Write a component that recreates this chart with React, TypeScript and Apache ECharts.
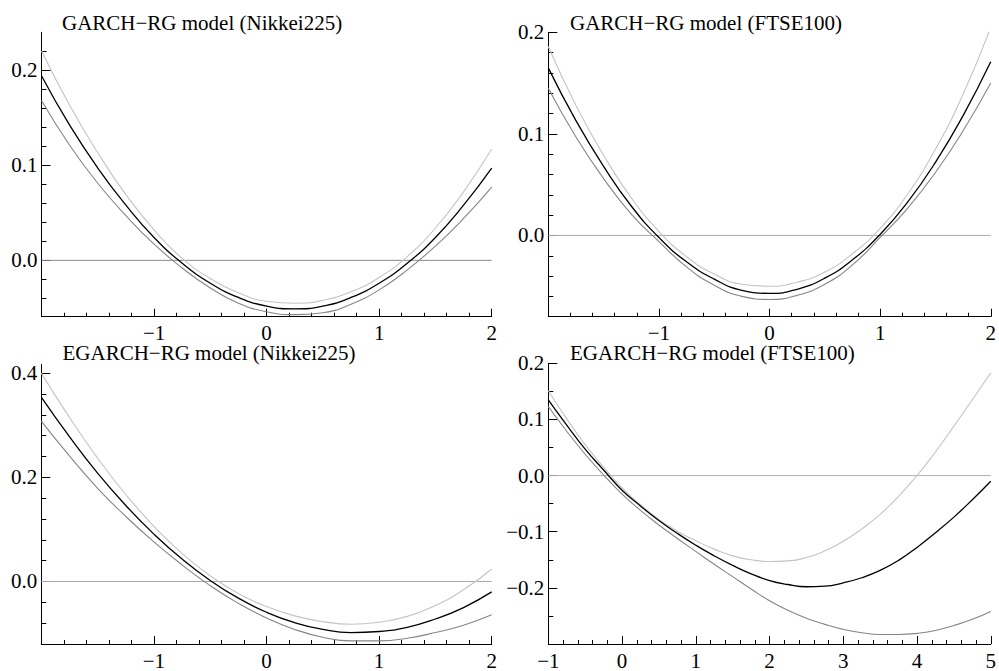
import React, { useEffect, useRef } from "react";
import * as echarts from "echarts";

const FONT = "Liberation Serif";

// ---------- titles ----------
const titles = [
  "GARCH\u2212RG model (Nikkei225)",
  "GARCH\u2212RG model (FTSE100)",
  "EGARCH\u2212RG model (Nikkei225)",
  "EGARCH\u2212RG model (FTSE100)",
];

// ---------- data (news impact curves with bands) ----------
const zStd = [-2, -1.75, -1.5, -1.25, -1, -0.75, -0.5, -0.25, 0, 0.25, 0.5, 0.75, 1, 1.25, 1.5, 1.75, 2];

const nikkeiGarchEst = [0.194, 0.142, 0.097, 0.058, 0.024, -0.003, -0.024, -0.039, -0.048, -0.051, -0.048, -0.039, -0.024, -0.003, 0.024, 0.058, 0.097];
const nikkeiGarchUpper = [0.22, 0.163, 0.113, 0.069, 0.032, 0.002, -0.019, -0.034, -0.043, -0.045, -0.042, -0.033, -0.018, 0.004, 0.034, 0.072, 0.117];
const nikkeiGarchLower = [0.168, 0.121, 0.081, 0.047, 0.017, -0.008, -0.029, -0.045, -0.054, -0.057, -0.055, -0.046, -0.031, -0.01, 0.015, 0.044, 0.077];

const ftseGarchEst = [0.165, 0.113, 0.068, 0.029, -0.002, -0.026, -0.043, -0.054, -0.057, -0.053, -0.042, -0.024, 0.001, 0.033, 0.072, 0.118, 0.171];
const ftseGarchUpper = [0.186, 0.128, 0.079, 0.037, 0.004, -0.021, -0.038, -0.048, -0.05, -0.046, -0.036, -0.018, 0.007, 0.041, 0.085, 0.139, 0.205];
const ftseGarchLower = [0.145, 0.097, 0.056, 0.021, -0.006, -0.031, -0.049, -0.06, -0.063, -0.059, -0.048, -0.029, -0.002, 0.027, 0.062, 0.103, 0.15];

const nikkeiEgarchEst = [0.354, 0.278, 0.208, 0.146, 0.091, 0.043, 0.002, -0.032, -0.059, -0.079, -0.092, -0.098, -0.096, -0.088, -0.072, -0.05, -0.02];
const nikkeiEgarchUpper = [0.4, 0.315, 0.237, 0.167, 0.106, 0.054, 0.011, -0.023, -0.048, -0.066, -0.077, -0.082, -0.078, -0.067, -0.046, -0.016, 0.024];
const nikkeiEgarchLower = [0.308, 0.241, 0.179, 0.125, 0.076, 0.032, -0.008, -0.042, -0.07, -0.092, -0.107, -0.114, -0.114, -0.109, -0.098, -0.084, -0.064];

const zFtseEgarch = [-1, -0.75, -0.5, -0.25, 0, 0.25, 0.5, 0.75, 1, 1.25, 1.5, 1.75, 2, 2.25, 2.5, 2.75, 3, 3.25, 3.5, 3.75, 4, 4.25, 4.5, 4.75, 5];
const ftseEgarchEst = [0.135, 0.09, 0.047, 0.01, -0.026, -0.054, -0.08, -0.103, -0.124, -0.143, -0.16, -0.175, -0.187, -0.194, -0.198, -0.197, -0.191, -0.182, -0.169, -0.151, -0.128, -0.102, -0.074, -0.043, -0.01];
const ftseEgarchUpper = [0.151, 0.101, 0.055, 0.015, -0.022, -0.052, -0.078, -0.099, -0.116, -0.131, -0.143, -0.15, -0.153, -0.152, -0.146, -0.134, -0.117, -0.095, -0.069, -0.037, 0.0, 0.042, 0.088, 0.135, 0.183];
const ftseEgarchLower = [0.123, 0.079, 0.038, 0.001, -0.033, -0.062, -0.088, -0.112, -0.135, -0.158, -0.18, -0.202, -0.223, -0.24, -0.254, -0.265, -0.274, -0.28, -0.283, -0.283, -0.281, -0.276, -0.267, -0.256, -0.242];

// ---------- axes ----------
const xRanges = [[-2, 2], [-2, 2], [-2, 2], [-1, 5]];
const yRanges = [[-0.0592, 0.2396], [-0.08, 0.2], [-0.12, 0.417], [-0.3, 0.2]];
const xLabels = [[-1, 0, 1, 2], [-1, 0, 1, 2], [-1, 0, 1, 2], [-1, 0, 1, 2, 3, 4, 5]];
const yLabels = [[0, 0.1, 0.2], [0, 0.1, 0.2], [0, 0.2, 0.4], [-0.2, -0.1, 0, 0.1, 0.2]];
const xMinorStep = [0.2, 0.2, 0.2, 0.2];
const yMinorStep = [0.02, 0.02, 0.04, 0.05];

const gridRects = [
  { left: 41.5, top: 32.3, width: 450.2, height: 284.4 },
  { left: 548.3, top: 32.3, width: 449.5, height: 284.4 },
  { left: 41.3, top: 364.3, width: 450.4, height: 283.4 },
  { left: 548.3, top: 363.3, width: 450, height: 284.4 },
];
const titlePos = [
  [62, 22.8],
  [570, 22.8],
  [62.5, 352.5],
  [570, 352.5],
];
const zeroColors = ["#8a8a8a", "#ababab", "#a8a8a8", "#b0b0b0"];

const panelSeries = [
  { z: zStd, est: nikkeiGarchEst, up: nikkeiGarchUpper, lo: nikkeiGarchLower },
  { z: zStd, est: ftseGarchEst, up: ftseGarchUpper, lo: ftseGarchLower },
  { z: zStd, est: nikkeiEgarchEst, up: nikkeiEgarchUpper, lo: nikkeiEgarchLower },
  { z: zFtseEgarch, est: ftseEgarchEst, up: ftseEgarchUpper, lo: ftseEgarchLower },
];

function steps(min: number, max: number, step: number, exclude: number[]): number[] {
  const out: number[] = [];
  const start = Math.ceil(min / step - 1e-6);
  const end = Math.floor(max / step + 1e-6);
  for (let k = start; k <= end; k++) {
    const v = Math.round(k * step * 10000) / 10000;
    if (!exclude.some((e) => Math.abs(e - v) < 1e-6)) out.push(v);
  }
  return out;
}

const fmt = (digits: number) => (v: number) =>
  (v < -1e-9 ? "\u2212" : "") + Math.abs(v).toFixed(digits);

function buildOption() {
  const xAxis: any[] = [];
  const yAxis: any[] = [];
  const series: any[] = [];
  const graphic: any[] = [];

  for (let i = 0; i < 4; i++) {
    const [x0, x1] = xRanges[i];
    const [y0, y1] = yRanges[i];
    const common = { type: "value", gridIndex: i, splitLine: { show: false } };
    xAxis.push({
      ...common,
      min: x0,
      max: x1,
      position: "bottom",
      axisLine: { show: true, onZero: false, lineStyle: { color: "#000", width: 1 } },
      axisTick: { show: true, inside: true, length: 8, customValues: xLabels[i], lineStyle: { color: "#000", width: 1 } },
      axisLabel: {
        show: true,
        customValues: xLabels[i],
        formatter: fmt(0),
        fontFamily: FONT,
        fontSize: 21,
        color: "#000",
        margin: 6,
        showMinLabel: true,
        showMaxLabel: true,
        hideOverlap: false,
      },
    });
    xAxis.push({
      ...common,
      min: x0,
      max: x1,
      position: "bottom",
      offset: 0,
      axisLine: { show: false, onZero: false },
      axisTick: { show: true, inside: true, length: 4, customValues: steps(x0, x1, xMinorStep[i], xLabels[i]), lineStyle: { color: "#000", width: 1 } },
      axisLabel: { show: false },
    });
    yAxis.push({
      ...common,
      min: y0,
      max: y1,
      position: "left",
      axisLine: { show: true, onZero: false, lineStyle: { color: "#000", width: 1 } },
      axisTick: { show: true, inside: true, length: 9, customValues: yLabels[i], lineStyle: { color: "#000", width: 1 } },
      axisLabel: {
        show: true,
        customValues: yLabels[i],
        formatter: fmt(1),
        fontFamily: FONT,
        fontSize: 21,
        color: "#000",
        margin: 4,
        showMinLabel: true,
        showMaxLabel: true,
      },
    });
    yAxis.push({
      ...common,
      min: y0,
      max: y1,
      position: "left",
      offset: 0,
      axisLine: { show: false, onZero: false },
      axisTick: { show: true, inside: true, length: 5, customValues: steps(y0, y1, yMinorStep[i], yLabels[i]), lineStyle: { color: "#000", width: 1 } },
      axisLabel: { show: false },
    });

    const ps = panelSeries[i];
    const base = { type: "line", xAxisIndex: 2 * i, yAxisIndex: 2 * i, symbol: "none", silent: true, clip: true };
    series.push({
      ...base,
      name: "zero" + i,
      data: [[x0, 0], [x1, 0]],
      smooth: false,
      lineStyle: { color: zeroColors[i], width: 1 },
      z: 1,
    });
    series.push({
      ...base,
      name: "lower" + i,
      data: ps.z.map((z, k) => [z, ps.lo[k]]),
      smooth: true,
      lineStyle: { color: "#858585", width: 1.1 },
      z: 2,
    });
    series.push({
      ...base,
      name: "upper" + i,
      data: ps.z.map((z, k) => [z, ps.up[k]]),
      smooth: true,
      lineStyle: { color: "#c4c4c4", width: 1.1 },
      z: 2,
    });
    series.push({
      ...base,
      name: "est" + i,
      data: ps.z.map((z, k) => [z, ps.est[k]]),
      smooth: true,
      lineStyle: { color: "#000", width: 1.3 },
      z: 3,
    });

    graphic.push({
      type: "text",
      x: titlePos[i][0],
      y: titlePos[i][1],
      silent: true,
      style: {
        text: titles[i],
        fill: "#000",
        font: "21px " + FONT,
        align: "left",
        verticalAlign: "middle",
      },
    });
  }

  return {
    animation: false,
    backgroundColor: "#fff",
    grid: gridRects.map((g) => ({ ...g, containLabel: false })),
    xAxis,
    yAxis,
    series,
    graphic,
  };
}

export default function App() {
  const ref = useRef<HTMLDivElement>(null);
  useEffect(() => {
    if (!ref.current) return;
    const chart = echarts.init(ref.current, undefined, { renderer: "svg" });
    chart.setOption(buildOption() as any);
    return () => chart.dispose();
  }, []);
  return (
    <div
      ref={ref}
      style={{ position: "fixed", left: 0, top: 0, width: 999, height: 671, background: "#fff" }}
    />
  );
}
